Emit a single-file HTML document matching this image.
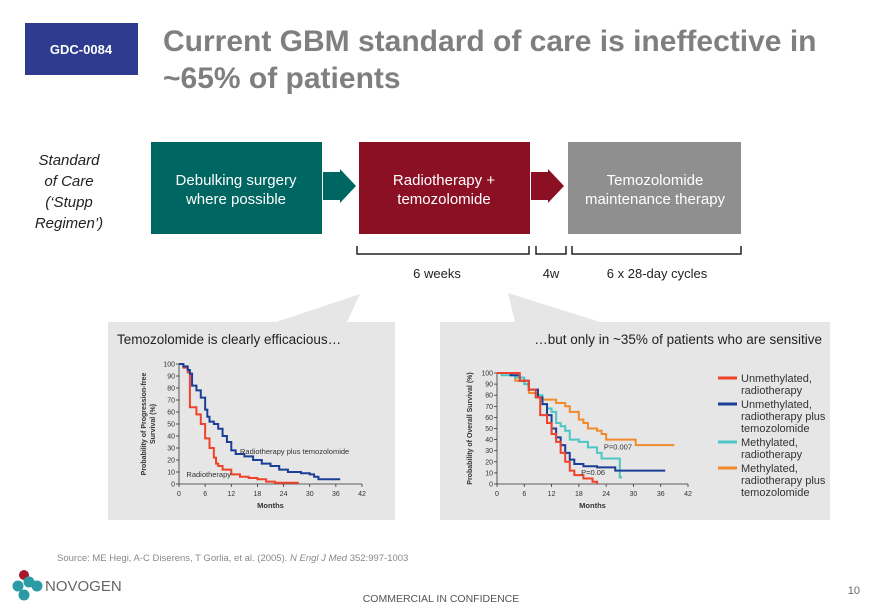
<!DOCTYPE html>
<html><head><meta charset="utf-8"><style>
html,body{margin:0;padding:0;background:#fff;}
svg{display:block;font-family:"Liberation Sans",sans-serif;}
</style></head><body>
<svg id="s" width="880" height="609" viewBox="0 0 880 609">
<rect x="25" y="23" width="113" height="52" fill="#2e3b8f"/>
<text x="81" y="54" fill="#fff" font-size="13" font-weight="bold" text-anchor="middle">GDC-0084</text>
<text x="163" y="51" fill="#7f7f7f" font-size="30" font-weight="bold">Current GBM standard of care is ineffective in</text>
<text x="163" y="88" fill="#7f7f7f" font-size="30" font-weight="bold">~65% of patients</text>
<g font-style="italic" font-size="15" fill="#222" text-anchor="middle">
<text x="69" y="165">Standard</text><text x="69" y="186">of Care</text><text x="69" y="207">(‘Stupp</text><text x="69" y="228">Regimen’)</text></g>
<rect x="151" y="142" width="171" height="92" fill="#006661"/>
<g fill="#fff" font-size="15" text-anchor="middle"><text x="236" y="185">Debulking surgery</text><text x="236" y="204">where possible</text></g>
<polygon points="323,172 340,172 340,169 356,186 340,203 340,200 323,200" fill="#006661"/>
<rect x="359" y="142" width="171" height="92" fill="#8c1024"/>
<g fill="#fff" font-size="15" text-anchor="middle"><text x="444" y="185">Radiotherapy +</text><text x="444" y="204">temozolomide</text></g>
<polygon points="531,172 548,172 548,169 564,186 548,203 548,200 531,200" fill="#8c1024"/>
<rect x="568" y="142" width="173" height="92" fill="#8f8f8f"/>
<g fill="#fff" font-size="15" text-anchor="middle"><text x="655" y="185">Temozolomide</text><text x="655" y="204">maintenance therapy</text></g>
<g stroke="#222" stroke-width="1.5" fill="none">
<polyline points="357,246 357,254 529,254 529,246"/><polyline points="536,246 536,254 566,254 566,246"/><polyline points="572,246 572,254 741,254 741,246"/></g>
<g font-size="13" fill="#222" text-anchor="middle"><text x="437" y="278">6 weeks</text><text x="551" y="278">4w</text><text x="657" y="278">6 x 28-day cycles</text></g>
<polygon points="276,322 360,294 347,322" fill="#e6e6e6"/>
<rect x="108" y="322" width="287" height="198" fill="#e6e6e6"/>
<polygon points="508,293 515,322 600,322" fill="#e6e6e6"/>
<rect x="440" y="322" width="390" height="198" fill="#e6e6e6"/>
<text x="117" y="344" font-size="13.5" fill="#222">Temozolomide is clearly efficacious…</text>
<text x="822" y="344" font-size="13.5" fill="#222" text-anchor="end">…but only in ~35% of patients who are sensitive</text>
<g id="c1"></g><g id="c2"></g>
<text x="57" y="561" font-size="9.5" fill="#888">Source: ME Hegi, A-C Diserens, T Gorlia, et al. (2005). <tspan font-style="italic">N Engl J Med</tspan> 352:997-1003</text>
<g>
<circle cx="24" cy="575" r="5" fill="#a8182a"/><circle cx="18" cy="586" r="5.5" fill="#2a9aa5"/><circle cx="29" cy="582" r="5.5" fill="#2a9aa5"/><circle cx="24" cy="595" r="5.5" fill="#2a9aa5"/><circle cx="37" cy="586" r="5.5" fill="#2a9aa5"/>
<text x="45" y="591" font-size="15" fill="#666">NOVOGEN</text></g>
<text x="860" y="594" font-size="11" fill="#666" text-anchor="end">10</text>
<text x="441" y="602" font-size="10.5" fill="#555" text-anchor="middle">COMMERCIAL IN CONFIDENCE</text>
</svg>
<script>
const NS="http://www.w3.org/2000/svg";
const xTicks=[0,6,12,18,24,30,36,42];
const yTicks=[0,10,20,30,40,50,60,70,80,90,100];
const pfsMonthsTmz=[0,1,2,2.5,3,4,5,6,6.5,7,8,9,10,11,12,13,15,17,19,21,23,25,28,30,31,32,37];
const pfsValsTmz=[100,98,95,92,82,78,72,62,56,52,50,46,40,35,28,25,23,20,17,15,12,10,9,8,6,4,4];
const pfsMonthsRt=[0,1,2,2.5,4,5,6,7,8,8.5,9,10,12,14,16,18,20,22,27.5];
const pfsValsRt=[100,97,93,64,58,50,38,30,22,17,15,12,8,6,5,4,2,1,1];
const osMonthsUR=[0,4,5,7,8.5,9.5,11,12,13,14,15,16,17,19,21,22];
const osValsUR=[100,100,93,85,78,62,55,45,38,28,20,12,8,5,2,0];
const osMonthsUT=[0,3,5,7,9,10,11,12,13,14,15,16,17,19,22,26,37];
const osValsUT=[100,98,93,85,78,72,62,50,42,35,28,22,18,16,15,12,12];
const osMonthsMR=[0,1,4,6,7,9,10,11,12,13,14,15,16,18,20,22,23,26.5,27,27.5];
const osValsMR=[100,98,96,90,85,80,72,68,65,55,52,48,40,38,33,28,23,23,6,6];
const osMonthsMT=[0,3,4,6,7,9,10,13,15,16,18,19,20,22,23,24,30.5,39];
const osValsMT=[100,98,93,90,82,78,76,73,70,65,58,55,50,48,45,40,35,35];
const legendLabels=[["Unmethylated,","radiotherapy"],["Unmethylated,","radiotherapy plus","temozolomide"],["Methylated,","radiotherapy"],["Methylated,","radiotherapy plus","temozolomide"]];
const RED="#f0422a",BLUE="#1b3f96",CYAN="#4cc6c4",ORANGE="#f08a2c";
function mk(tag,attrs,parent){const e=document.createElementNS(NS,tag);for(const k in attrs)e.setAttribute(k,attrs[k]);parent.appendChild(e);return e;}
function chart(g,x0,x1,y0,y1,series,ytitle){
  const X=m=>x0+(x1-x0)*m/42, Y=v=>y0-(y0-y1)*v/100;
  const ax=mk("path",{d:`M${x0},${Y(100)}V${y0}H${x1}`,stroke:"#333","stroke-width":0.8,fill:"none"},g);
  
  
  xTicks.forEach(t=>{mk("line",{x1:X(t),x2:X(t),y1:y0,y2:y0+3,stroke:"#333","stroke-width":0.8},g);
    const tx=mk("text",{x:X(t),y:y0+12,"font-size":7,fill:"#333","text-anchor":"middle"},g);tx.textContent=t;
    
    });
  yTicks.forEach(t=>{mk("line",{x1:x0-3,x2:x0,y1:Y(t),y2:Y(t),stroke:"#333","stroke-width":0.8},g);
    const tx=mk("text",{x:x0-4,y:Y(t)+2.5,"font-size":7,fill:"#333","text-anchor":"end"},g);tx.textContent=t;
    
    });
  const xt=mk("text",{x:(x0+x1)/2,y:y0+24,"font-size":7.5,"font-weight":"bold",fill:"#333","text-anchor":"middle"},g);xt.textContent="Months";
  
  
  ytitle.forEach((l,i)=>{const cx=ytitle.xpos[i],cy=(y0+Y(100))/2;
    const t=mk("text",{x:cx,y:cy,"font-size":7,"font-weight":"bold",fill:"#333","text-anchor":"middle",transform:`rotate(-90 ${cx} ${cy})`},g);t.textContent=l;
    
    });
  series.forEach(s=>{let d="";s.m.forEach((m,i)=>{d+=i?`H${X(m)}V${Y(s.v[i])}`:`M${X(m)},${Y(s.v[i])}`;});
    const p=mk("path",{d:d,stroke:s.c,"stroke-width":2,fill:"none"},g);
    
    });
  return {X,Y};
}
const yt1=["Probability of  Progression-free","Survival (%)"];yt1.xpos=[146,155];
const a1=chart(document.getElementById("c1"),179,362,484,364,[
 {m:pfsMonthsRt,v:pfsValsRt,c:RED,n:"radiotherapy-curve"},
 {m:pfsMonthsTmz,v:pfsValsTmz,c:BLUE,n:"radiotherapy-tmz-curve"}],yt1);
const g1=document.getElementById("c1");
let t=mk("text",{x:a1.X(14),y:a1.Y(25),"font-size":7.5,fill:"#333"},g1);t.textContent="Radiotherapy plus temozolomide";


t=mk("text",{x:a1.X(1.7),y:a1.Y(6),"font-size":7.5,fill:"#333"},g1);t.textContent="Radiotherapy";


const yt2=["Probability of Overall Survival (%)"];yt2.xpos=[472];
const g2=document.getElementById("c2");
const a2=chart(g2,497,688,484,373,[
 {m:osMonthsMT,v:osValsMT,c:ORANGE,n:"methylated-tmz-curve"},
 {m:osMonthsMR,v:osValsMR,c:CYAN,n:"methylated-rt-curve"},
 {m:osMonthsUT,v:osValsUT,c:BLUE,n:"unmethylated-tmz-curve"},
 {m:osMonthsUR,v:osValsUR,c:RED,n:"unmethylated-rt-curve"}],yt2);
t=mk("text",{x:a2.X(23.5),y:a2.Y(31),"font-size":7.5,fill:"#333"},g2);t.textContent="P=0.007";


t=mk("text",{x:a2.X(18.5),y:a2.Y(8),"font-size":7.5,fill:"#333"},g2);t.textContent="P=0.06";


const lc=[RED,BLUE,CYAN,ORANGE];let ly=382;
legendLabels.forEach((ls,i)=>{
  const ln=mk("line",{x1:718,x2:737,y1:ly-4,y2:ly-4,stroke:lc[i],"stroke-width":3},g2);
  
  
  ls.forEach((l,j)=>{const tx=mk("text",{x:741,y:ly+j*12,"font-size":11,fill:"#333"},g2);tx.textContent=l;
    
    });
  ly+=ls.length*12+2;
});
</script>
</body></html>
